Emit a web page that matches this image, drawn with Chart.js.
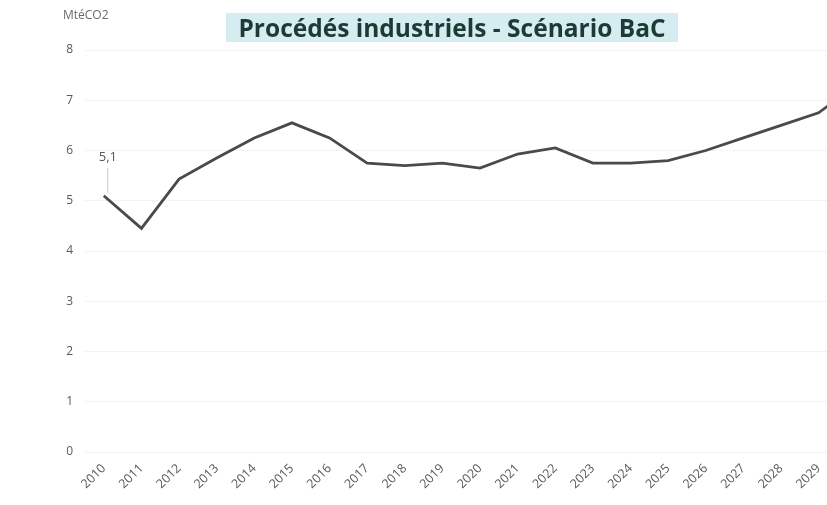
<!DOCTYPE html>
<html>
<head>
<meta charset="utf-8">
<script src="https://cdn.jsdelivr.net/npm/chart.js@4/dist/chart.umd.min.js"></script>
<style>
  html, body { margin: 0; padding: 0; background: #ffffff; overflow: hidden; }
  #wrap { position: relative; width: 827px; height: 505px; overflow: hidden; background: #fff; }
  #box { position: absolute; left: 0; top: 0; width: 880px; height: 505px; }
  #title {
    position: absolute; left: 226px; top: 13px; width: 452px; height: 29px;
    background: #d5edf0; color: #1c3a36; font-family: "Open Sans", sans-serif;
    font-weight: bold; font-size: 24.5px; line-height: 29px; text-align: center; white-space: nowrap;
  }
  #unit {
    position: absolute; left: 63px; top: 7px; color: #6b6b6b;
    font-family: "Open Sans", sans-serif; font-size: 12px; line-height: 16px;
  }
</style>
</head>
<body>
<div id="wrap">
  <div id="box"><canvas id="c" width="880" height="505"></canvas></div>
  <div id="title">Procédés industriels - Scénario BaC</div>
  <div id="unit">MtéCO2</div>
</div>
<script>
const years = ['2010','2011','2012','2013','2014','2015','2016','2017','2018','2019','2020',
               '2021','2022','2023','2024','2025','2026','2027','2028','2029','2030'];
const emissions = [5.1, 4.45, 5.43, 5.85, 6.25, 6.55, 6.25, 5.75, 5.7, 5.75, 5.65,
                   5.93, 6.05, 5.75, 5.75, 5.8, 6.0, 6.25, 6.5, 6.75, 7.3];
const yTicks = [0, 1, 2, 3, 4, 5, 6, 7, 8];
const labelled = [0, emissions.length - 1];

const endLabels = {
  id: 'endLabels',
  afterDatasetsDraw(chart) {
    const ctx = chart.ctx;
    const meta = chart.getDatasetMeta(0);
    ctx.save();
    ctx.font = '13px "Open Sans", sans-serif';
    ctx.textAlign = 'center';
    ctx.textBaseline = 'middle';
    labelled.forEach(i => {
      const p = meta.data[i];
      const txt = emissions[i].toFixed(1).replace('.', ',');
      ctx.strokeStyle = '#c8c8c8';
      ctx.lineWidth = 1;
      ctx.beginPath();
      ctx.moveTo(p.x + 4, p.y - 28);
      ctx.lineTo(p.x + 4, p.y - 3);
      ctx.stroke();
      ctx.fillStyle = '#595959';
      ctx.fillText(txt, p.x + 4, p.y - 38);
    });
    ctx.restore();
  }
};

new Chart(document.getElementById('c'), {
  type: 'line',
  data: {
    labels: years,
    datasets: [{
      data: emissions,
      borderColor: '#4a4a4a',
      borderWidth: 2.8,
      pointRadius: 0,
      tension: 0,
      fill: false
    }]
  },
  options: {
    responsive: false,
    animation: false,
    layout: { padding: { left: 0, right: 5, top: 50, bottom: 0 } },
    plugins: { legend: { display: false }, title: { display: false }, tooltip: { enabled: false } },
    scales: {
      x: {
        offset: true,
        grid: { display: false },
        border: { display: false },
        ticks: {
          color: '#595959', font: { family: 'Open Sans', size: 12.5 },
          minRotation: 45, maxRotation: 45, padding: 1, autoSkip: false
        },
        afterFit(s) { s.height = 53; }
      },
      y: {
        min: 0, max: 8,
        afterBuildTicks(s) { s.ticks = yTicks.map(v => ({ value: v })); },
        grid: { color: '#f3f3f3', drawTicks: false },
        border: { display: false },
        ticks: { color: '#595959', font: { family: 'Open Sans', size: 12 }, padding: 12 },
        afterFit(s) { s.width = 85; }
      }
    }
  },
  plugins: [endLabels]
});
</script>
</body>
</html>
